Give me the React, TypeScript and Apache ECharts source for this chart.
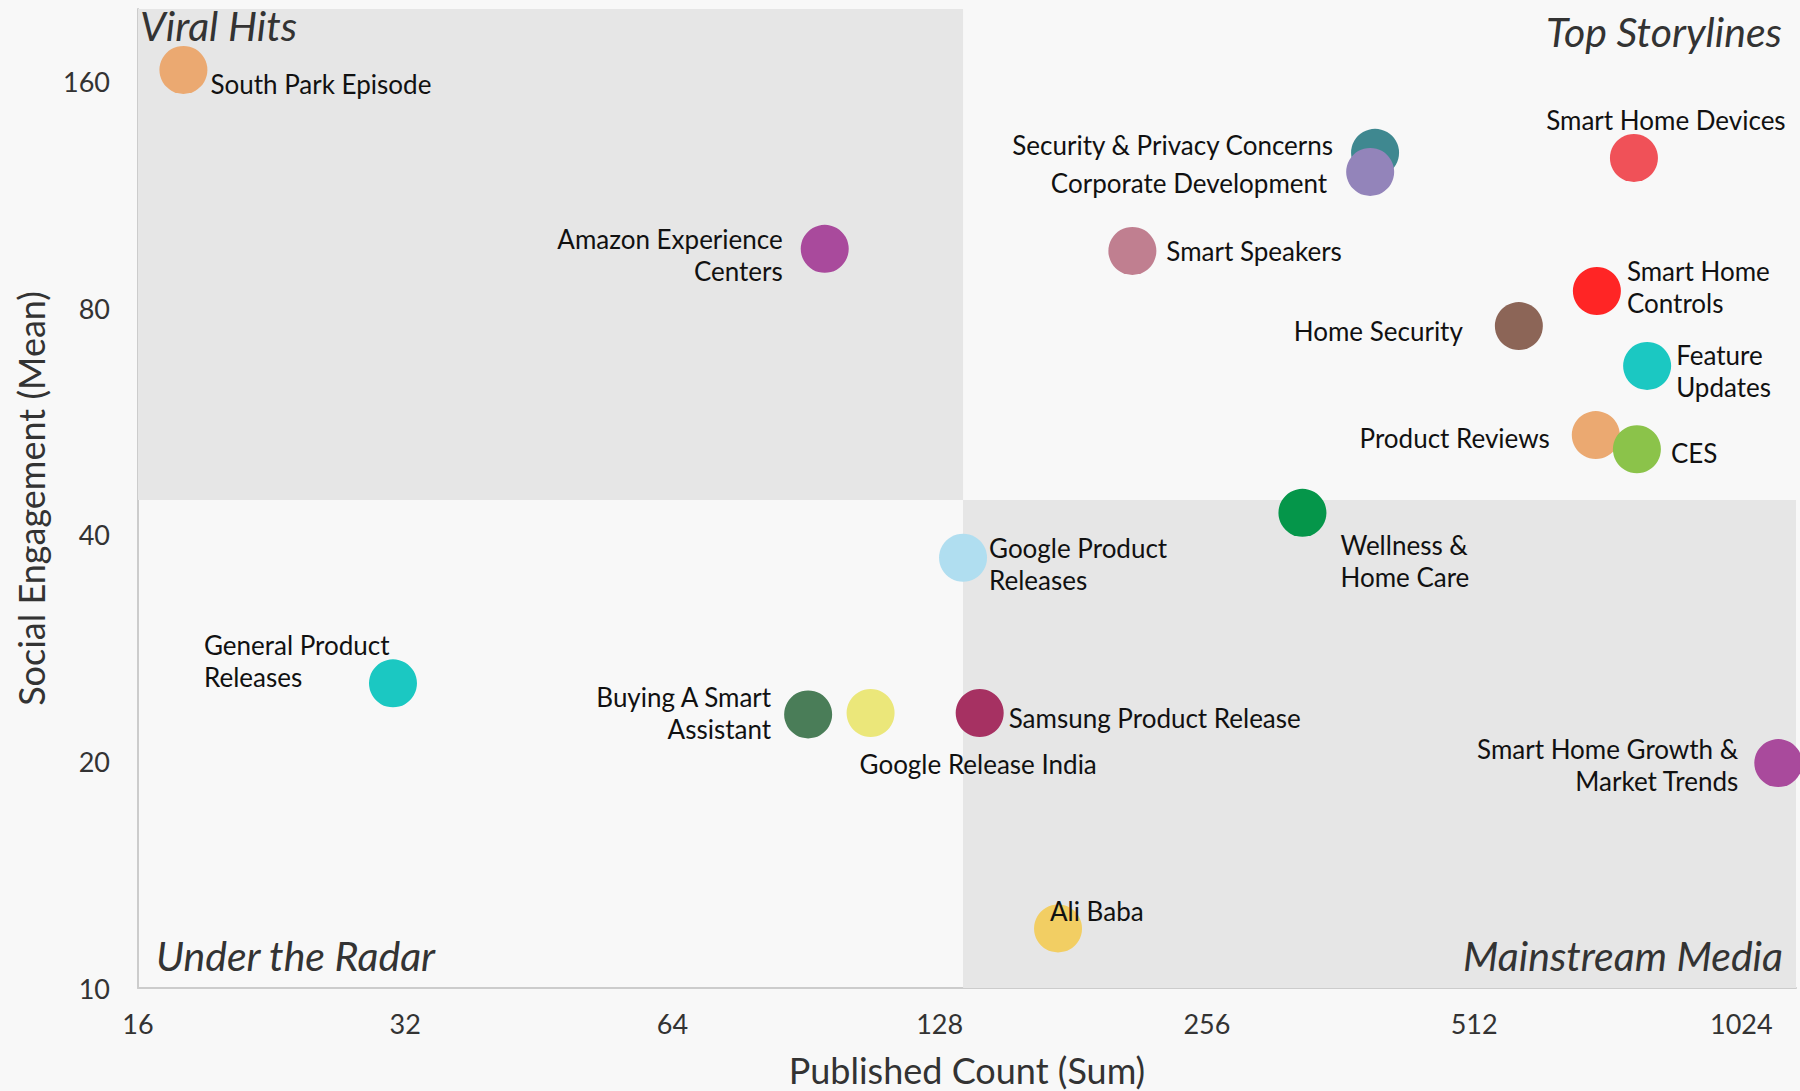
import React, { useEffect, useRef } from 'react';
import * as echarts from 'echarts';

// ---- data ----
const topics = [
  'South Park Episode',
  'Amazon Experience\nCenters',
  'Smart Speakers',
  'Security & Privacy Concerns',
  'Corporate Development',
  'Smart Home Devices',
  'Smart Home\nControls',
  'Home Security',
  'Feature\nUpdates',
  'Product Reviews',
  'CES',
  'Wellness &\nHome Care',
  'Smart Home Growth &\nMarket Trends',
  'General Product\nReleases',
  'Google Product\nReleases',
  'Buying A Smart\nAssistant',
  'Google Release India',
  'Samsung Product Release',
  'Ali Baba',
];
const publishedCount = [18, 95, 211, 396, 391, 775, 704, 575, 802, 702, 781, 328, 1127, 31, 136, 91, 107, 142, 174];
const socialEngagement = [166, 96, 95.4, 128.8, 121.5, 126.8, 84.4, 75.8, 67.1, 54.3, 52.0, 42.8, 19.9, 25.4, 37.3, 23.1, 23.2, 23.2, 12.0];
const topicColors = [
  '#EBA971', '#A94A9C', '#C07F90', '#3F8890', '#9384BA', '#F05158', '#FF2525', '#8C6557', '#1BC8C2',
  '#EBA971', '#8BC34A', '#05964A', '#A94A9C', '#1BC8C2', '#B0DEF0', '#4A7D58', '#EBE77A', '#A63162', '#F2CE63',
];
const xTicks = [16, 32, 64, 128, 256, 512, 1024];
const yTicks = [10, 20, 40, 80, 160];
const xMin = 16;
const xMax = 1180;
const yMin = 10;
const yMax = 200;
const splitX = 136;
const splitY = 44.5;
const quadrantNames = ['Viral Hits', 'Top Storylines', 'Under the Radar', 'Mainstream Media'];

// ---- label placement (offset from bubble centre, px) ----
const labelLayout: Array<[string, number, number]> = [
  ['left', 27, 14],
  ['right', -42, 6],
  ['left', 34, 0],
  ['right', -42, -8],
  ['right', -43, 11],
  ['center', 32, -38],
  ['left', 30, -4],
  ['right', -56, 5],
  ['left', 29, 5],
  ['right', -46, 3],
  ['left', 34, 4],
  ['left', 38, 48],
  ['right', -40, 2],
  ['left', -189, -22],
  ['left', 26, 6],
  ['right', -37, -1],
  ['left', -11, 51],
  ['left', 29, 5],
  ['left', -8, -17],
];

const FONT = 'Lato, "Open Sans", sans-serif';
const R = 24;

export default function App() {
  const ref = useRef<HTMLDivElement>(null);
  useEffect(() => {
    document.body.style.margin = '0';
    const chart = echarts.init(ref.current!, null, { renderer: 'svg' });
    const data = topics.map((t, i) => {
      const [align, dx, dy] = labelLayout[i];
      return {
        name: t,
        value: [publishedCount[i], socialEngagement[i]],
        itemStyle: { color: topicColors[i], opacity: 1 },
        label: {
          show: true,
          formatter: t,
          position: [R + dx, R + dy],
          align,
          verticalAlign: 'middle',
        },
      };
    });
    const qStyle = { fill: '#333', fontFamily: FONT, fontStyle: 'italic', fontSize: 41 };
    chart.setOption({
      animation: false,
      backgroundColor: '#f8f8f8',
      grid: { left: 138, right: 4, top: 9, bottom: 103, containLabel: false, outerBoundsMode: 'none' },
      xAxis: {
        type: 'log',
        logBase: 2,
        min: xMin,
        max: xMax,
        name: 'Published Count (Sum)',
        nameLocation: 'middle',
        nameGap: 64,
        nameTextStyle: { fontFamily: FONT, fontSize: 36, color: '#333' },
        axisLine: { show: true, lineStyle: { color: '#cccccc', width: 2 } },
        axisTick: { show: false },
        splitLine: { show: false },
        axisLabel: {
          customValues: xTicks,
          formatter: (v: number) => String(Math.round(v)),
          fontFamily: FONT,
          fontSize: 27,
          color: '#333',
          margin: 22,
        },
      },
      yAxis: {
        type: 'log',
        logBase: 2,
        min: yMin,
        max: yMax,
        name: 'Social Engagement (Mean)',
        nameLocation: 'middle',
        nameGap: 89,
        nameTextStyle: { fontFamily: FONT, fontSize: 36, color: '#333' },
        axisLine: { show: true, lineStyle: { color: '#cccccc', width: 2 } },
        axisTick: { show: false },
        splitLine: { show: false },
        axisLabel: {
          customValues: yTicks,
          formatter: (v: number) => String(Math.round(v)),
          fontFamily: FONT,
          fontSize: 27,
          color: '#333',
          margin: 28,
        },
      },
      series: [
        {
          type: 'scatter',
          z: 1,
          data: [],
          silent: true,
          markArea: {
            silent: true,
            itemStyle: { color: '#e6e6e6' },
            label: { show: false },
            data: [
              [{ xAxis: xMin, yAxis: splitY }, { xAxis: splitX, yAxis: yMax }],
              [{ xAxis: splitX, yAxis: yMin }, { xAxis: xMax, yAxis: splitY }],
            ],
          },
        },
        {
          type: 'scatter',
          z: 3,
          clip: false,
          symbol: 'circle',
          symbolSize: 2 * R,
          data,
          label: {
            fontFamily: FONT,
            fontSize: 26,
            lineHeight: 32,
            color: '#111',
          },
          emphasis: { disabled: true },
        },
      ],
      graphic: [
        { type: 'text', x: 140, y: 25, z: 10, style: { ...qStyle, text: quadrantNames[0], textAlign: 'left', textVerticalAlign: 'middle' } },
        { type: 'text', x: 1782, y: 31, z: 10, style: { ...qStyle, text: quadrantNames[1], textAlign: 'right', textVerticalAlign: 'middle' } },
        { type: 'text', x: 156, y: 955, z: 10, style: { ...qStyle, text: quadrantNames[2], textAlign: 'left', textVerticalAlign: 'middle' } },
        { type: 'text', x: 1783, y: 955, z: 10, style: { ...qStyle, text: quadrantNames[3], textAlign: 'right', textVerticalAlign: 'middle' } },
      ],
    });
    return () => chart.dispose();
  }, []);
  return (
    <div
      ref={ref}
      style={{ position: 'absolute', left: 0, top: 0, width: 1800, height: 1091, background: '#f8f8f8' }}
    />
  );
}
